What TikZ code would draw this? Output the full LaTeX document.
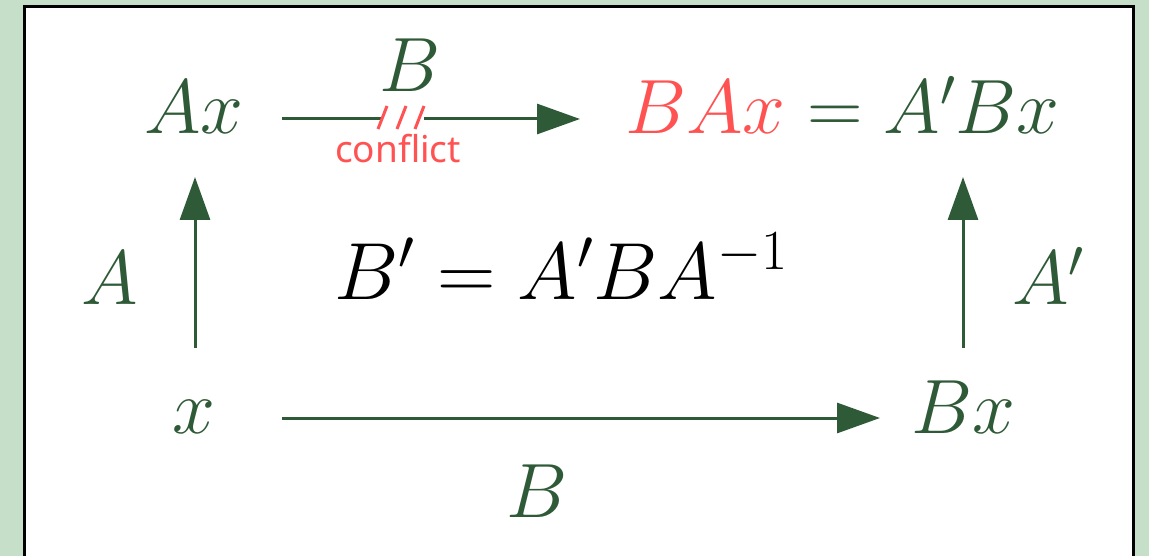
\RequirePackage{fix-cm}
\documentclass[tikz,border=0pt]{standalone}
\usepackage{fontspec}
\newfontfamily\labelsans{Noto Sans}
\usetikzlibrary{arrows.meta,calc}
\definecolor{dkgreen}{HTML}{2F5A37}
\definecolor{bggreen}{HTML}{C5DFC9}
\definecolor{conred}{HTML}{FF5252}
\begin{document}
\begin{tikzpicture}[x=1pt,y=-1pt,
  mathtxt/.style={inner sep=0pt,anchor=base,font=\fontsize{77}{90}\selectfont,text=dkgreen},
  arr/.style={draw=dkgreen,line width=3pt,-{Triangle[length=43pt,width=30pt]}},
  slash/.style={draw=conred,line width=3pt}]
\useasboundingbox (0,0) rectangle (1149,556);
\fill[bggreen] (0,0) rectangle (1149,556);
\filldraw[fill=white,draw=black,line width=3pt] (24,7) rectangle (1133,580);
% nodes
\node[mathtxt] (Ax) at (194,134) {$Ax$};
\node[mathtxt,anchor=base west] (top) at (625,134) {$\color{conred}BAx\color{dkgreen}=A'Bx$};
\node[mathtxt] (x) at (194,433) {$x$};
\node[mathtxt] (Bx) at (963,433) {$Bx$};
\node[mathtxt] (Btop) at (410,92) {$B$};
\node[mathtxt] (Bbot) at (537,517) {$B$};
\node[mathtxt] (A) at (110,304) {$A$};
\node[mathtxt] (Ap) at (1048,305) {$A'$};
\node[mathtxt,text=black,font=\fontsize{81}{95}\selectfont] (eq) at (561,299) {$B'=A'BA^{-1}$};
\node[inner sep=0pt,anchor=base,font=\labelsans\fontsize{37}{44}\selectfont,text=conred] (conf) at (398,163) {conflict};
% connectors
\draw[arr] ($(Ax.base)+(88,-15)$) -- ($(top.base west)+(-45,-15)$);
\fill[white] (381,110) rectangle (424,128);
\draw[slash] (378,129) -- (387,106);
\draw[slash] (397,129) -- (406,106);
\draw[slash] (415,129) -- (424,106);
\draw[arr] ($(x.base)+(1,-85)$) -- ($(Ax.base)+(1,43)$);
\draw[arr] ($(Bx.base)+(0,-85)$) -- ($(Bx.base |- top.base)+(0,43)$);
\draw[arr] ($(x.base)+(88,-15)$) -- ($(Bx.base)+(-83,-15)$);
\end{tikzpicture}
\end{document}
